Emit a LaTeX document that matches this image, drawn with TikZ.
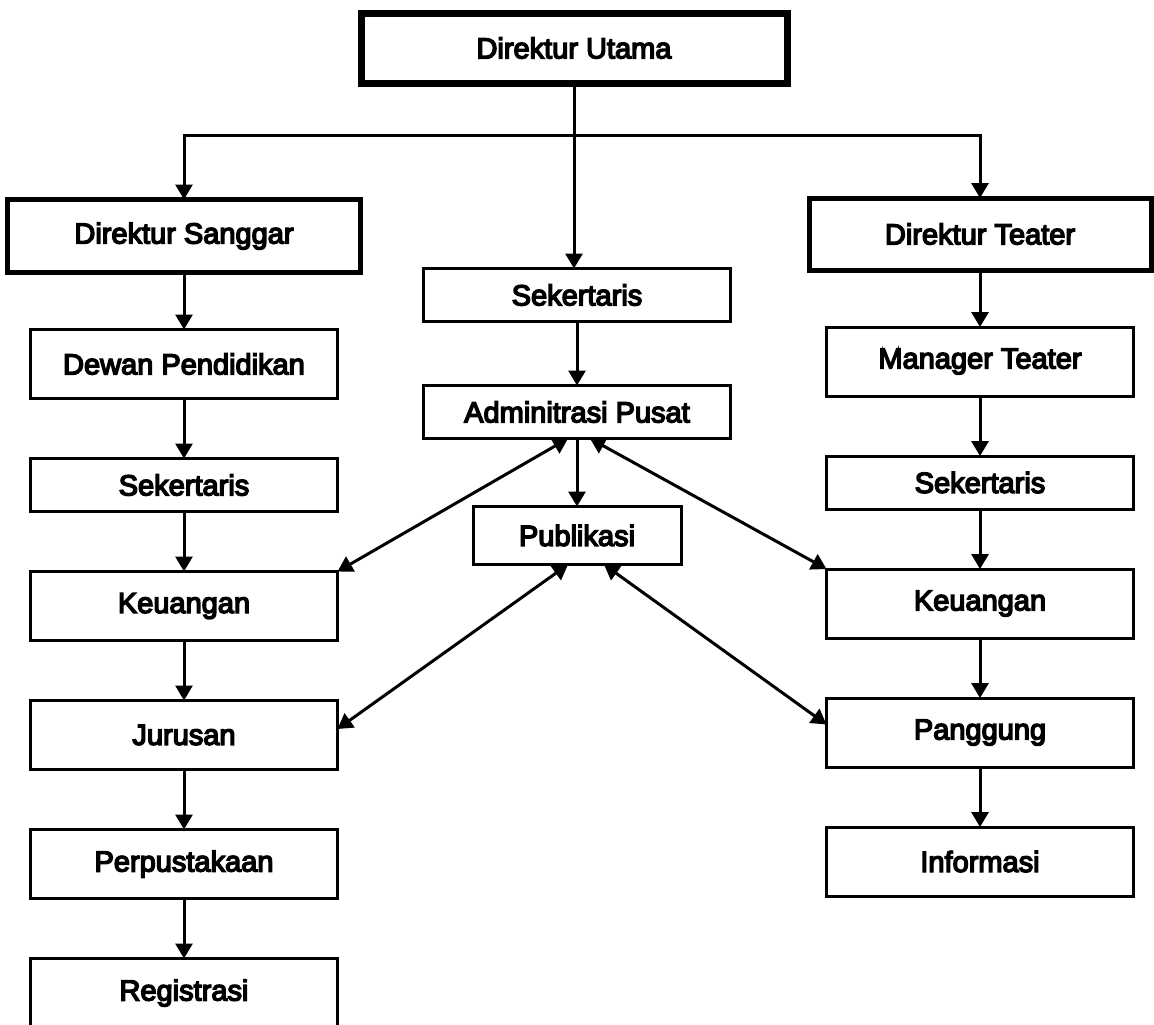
\documentclass[tikz,border=0pt]{standalone}
\usepackage{fontspec}
\newfontfamily\orgfont[FakeBold=5]{Liberation Sans}
\usetikzlibrary{positioning,arrows.meta}

\tikzset{
	unit/.style={draw, line width=1.5pt, minimum width=153.5pt, minimum height=34.5pt,
		inner sep=0pt, outer sep=0pt, font=\orgfont\fontsize{14.5}{17}\selectfont},
	unitsm/.style={unit, minimum height=26.5pt},
	chief/.style={unit, line width=2.5pt},
	link/.style={line width=1.5pt, -{Triangle[length=7.5pt,width=8.5pt]}},
	twoway/.style={link, {Triangle[length=7.5pt,width=8.5pt]}-{Triangle[length=7.5pt,width=8.5pt]}},
}

\begin{document}
\begin{tikzpicture}[x=0.5pt, y=-0.5pt, node distance=30pt]
\useasboundingbox (0,0) rectangle (1154,1024);

	\node [chief, line width=3.5pt, minimum width=213pt, minimum height=35pt] (du) at (574,48) {Direktur Utama};
	\node [chief, minimum width=176.5pt, minimum height=36.5pt] (ds) at (184,236) {Direktur Sanggar};
	\node [chief, minimum width=171pt, minimum height=36pt] (dt) at (980,234) {Direktur Teater};
	\coordinate (bus) at (574,135);

	% pusat
	\node [unitsm] (sekc) at (577,295) {Sekertaris};
	\node [unitsm, below=32pt of sekc] (adm) {Adminitrasi Pusat};
	\node [unitsm, minimum width=104pt, minimum height=29pt, below=34pt of adm] (pub) {Publikasi};

	% sanggar
	\node [unit, below=28.5pt of ds] (dewan) {Dewan Pendidikan};
	\node [unitsm, below=of dewan] (sekl) {Sekertaris};
	\node [unit, below=of sekl] (keul) {Keuangan};
	\node [unit, below=of keul] (jur) {Jurusan};
	\node [unit, below=of jur] (perp) {Perpustakaan};
	\node [unit, below=of perp] (reg) {Registrasi};

	% teater
	\node [unit, below=28.5pt of dt] (man) {Manager Teater};
	\node [unitsm, below=of man] (sekr) {Sekertaris};
	\node [unit, below=of sekr] (keur) {Keuangan};
	\node [unit, below=of keur] (pang) {Panggung};
	\node [unit, below=of pang] (info) {Informasi};

	\draw [line width=1.5pt] (du) -- (bus);
	\draw [link] (bus) -| (ds);
	\draw [link] (bus) -| (dt);
	\draw [link] (bus) -- (bus |- sekc.north);
	\draw [link] (sekc) -- (adm);
	\draw [link] (adm) -- (pub);

	\draw [link] (ds) -- (dewan);
	\draw [link] (dewan) -- (sekl);
	\draw [link] (sekl) -- (keul);
	\draw [link] (keul) -- (jur);
	\draw [link] (jur) -- (perp);
	\draw [link] (perp) -- (reg);

	\draw [link] (dt) -- (man);
	\draw [link] (man) -- (sekr);
	\draw [link] (sekr) -- (keur);
	\draw [link] (keur) -- (pang);
	\draw [link] (pang) -- (info);

	% hubungan silang
	\draw [twoway] ([xshift=-4.5pt]adm.south) -- (keul.north east);
	\draw [twoway] ([xshift=6.5pt]adm.south) -- (keur.north west);
	\draw [twoway] ([xshift=-4.5pt]pub.south) -- ([yshift=3pt]jur.east);
	\draw [twoway] ([xshift=13.5pt]pub.south) -- ([yshift=4pt]pang.west);

\end{tikzpicture}
\end{document}
